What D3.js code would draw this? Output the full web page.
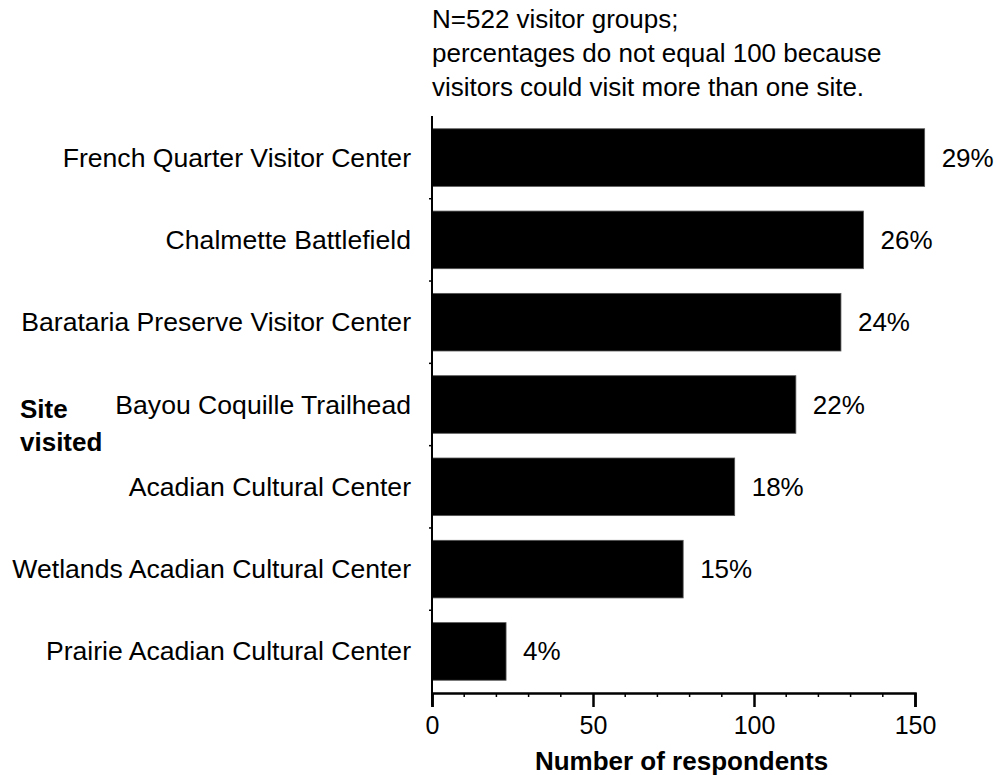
<!DOCTYPE html>
<html>
<head>
<meta charset="utf-8">
<script src="https://cdn.jsdelivr.net/npm/d3@7"></script>
<style>
  html, body { margin: 0; padding: 0; background: #fff; }
  svg { display: block; font-family: "Liberation Sans", Arial, Helvetica, sans-serif; }
</style>
</head>
<body>
<svg id="chart" width="996" height="775"></svg>
<script>
// ---- data ----
const categories = [
  "French Quarter Visitor Center",
  "Chalmette Battlefield",
  "Barataria Preserve Visitor Center",
  "Bayou Coquille Trailhead",
  "Acadian Cultural Center",
  "Wetlands Acadian Cultural Center",
  "Prairie Acadian Cultural Center"
];
const counts = [153, 134, 127, 113, 94, 78, 23];
const percentLabels = ["29%", "26%", "24%", "22%", "18%", "15%", "4%"];
const xTicks = [0, 50, 100, 150];
const noteLines = [
  "N=522 visitor groups;",
  "percentages do not equal 100 because",
  "visitors could visit more than one site."
];
const yTitleLines = ["Site", "visited"];
const xTitle = "Number of respondents";

// ---- layout ----
const svg = d3.select("#chart");
const x0 = 432, x1 = 915, yTop = 116, yBottom = 693;
const fs = 26;

const x = d3.scaleLinear().domain([0, 150]).range([x0, x1]);
const y = d3.scaleBand().domain(categories).range([yTop, yBottom])
  .paddingInner(0.3).paddingOuter(0.155);

// bars
svg.append("g").selectAll("rect").data(categories).join("rect")
  .attr("x", x(0))
  .attr("y", d => y(d))
  .attr("width", (d, i) => x(counts[i]) - x(0))
  .attr("height", y.bandwidth())
  .attr("fill", "#000")
  .attr("stroke", "#555")
  .attr("stroke-width", 0.8);

// percent labels
svg.append("g").selectAll("text").data(categories).join("text")
  .attr("x", (d, i) => x(counts[i]) + 17)
  .attr("y", d => y(d) + y.bandwidth() / 2)
  .attr("dominant-baseline", "central")
  .attr("font-size", fs)
  .attr("fill", "#000")
  .text((d, i) => percentLabels[i]);

// category labels
svg.append("g").selectAll("text").data(categories).join("text")
  .attr("x", 411)
  .attr("y", d => y(d) + y.bandwidth() / 2)
  .attr("dominant-baseline", "central")
  .attr("text-anchor", "end")
  .attr("font-size", 26.6)
  .attr("fill", "#000")
  .text(d => d);

// y axis line with small boundary ticks
const yAxisG = svg.append("g");
yAxisG.append("line")
  .attr("x1", x0).attr("x2", x0).attr("y1", yTop).attr("y2", yBottom + 12)
  .attr("stroke", "#000").attr("stroke-width", 2);
const step = y.step();
const boundaries = categories.slice(1).map(d => y(d) - (step - y.bandwidth()) / 2);
yAxisG.selectAll("line.bt").data(boundaries).join("line")
  .attr("class", "bt")
  .attr("x1", x0 - 3).attr("x2", x0).attr("y1", d => d).attr("y2", d => d)
  .attr("stroke", "#000").attr("stroke-width", 1.5);

// x axis
const xAxis = d3.axisBottom(x).tickValues(xTicks).tickSize(14).tickPadding(9).tickFormat(d3.format("d"));
const xg = svg.append("g").attr("transform", `translate(0,${yBottom})`).call(xAxis);
xg.select(".domain").attr("stroke", "#000").attr("stroke-width", 2.5);
xg.selectAll(".tick line").attr("stroke", "#000").attr("stroke-width", 2.5);
xg.selectAll(".tick text").attr("font-size", 25).attr("fill", "#000")
  .attr("font-family", "'Liberation Sans', Arial, sans-serif");
// minor ticks
const minor = d3.range(0, 151, 10).filter(v => !xTicks.includes(v));
xg.selectAll("line.minor").data(minor).join("line")
  .attr("class", "minor")
  .attr("x1", d => x(d)).attr("x2", d => x(d)).attr("y1", 0).attr("y2", 4)
  .attr("stroke", "#000").attr("stroke-width", 1.5);

// x title
svg.append("text")
  .attr("x", (x0 + x1) / 2 + 8).attr("y", 770)
  .attr("text-anchor", "middle")
  .attr("font-size", fs).attr("font-weight", "bold")
  .attr("fill", "#000")
  .text(xTitle);

// y title
svg.append("g").selectAll("text").data(yTitleLines).join("text")
  .attr("x", 20)
  .attr("y", (d, i) => 418 + i * 33)
  .attr("font-size", fs).attr("font-weight", "bold")
  .attr("fill", "#000")
  .text(d => d);

// note
svg.append("g").selectAll("text").data(noteLines).join("text")
  .attr("x", x0)
  .attr("y", (d, i) => 28 + i * 34)
  .attr("font-size", fs)
  .attr("fill", "#000")
  .text(d => d);
</script>
</body>
</html>
